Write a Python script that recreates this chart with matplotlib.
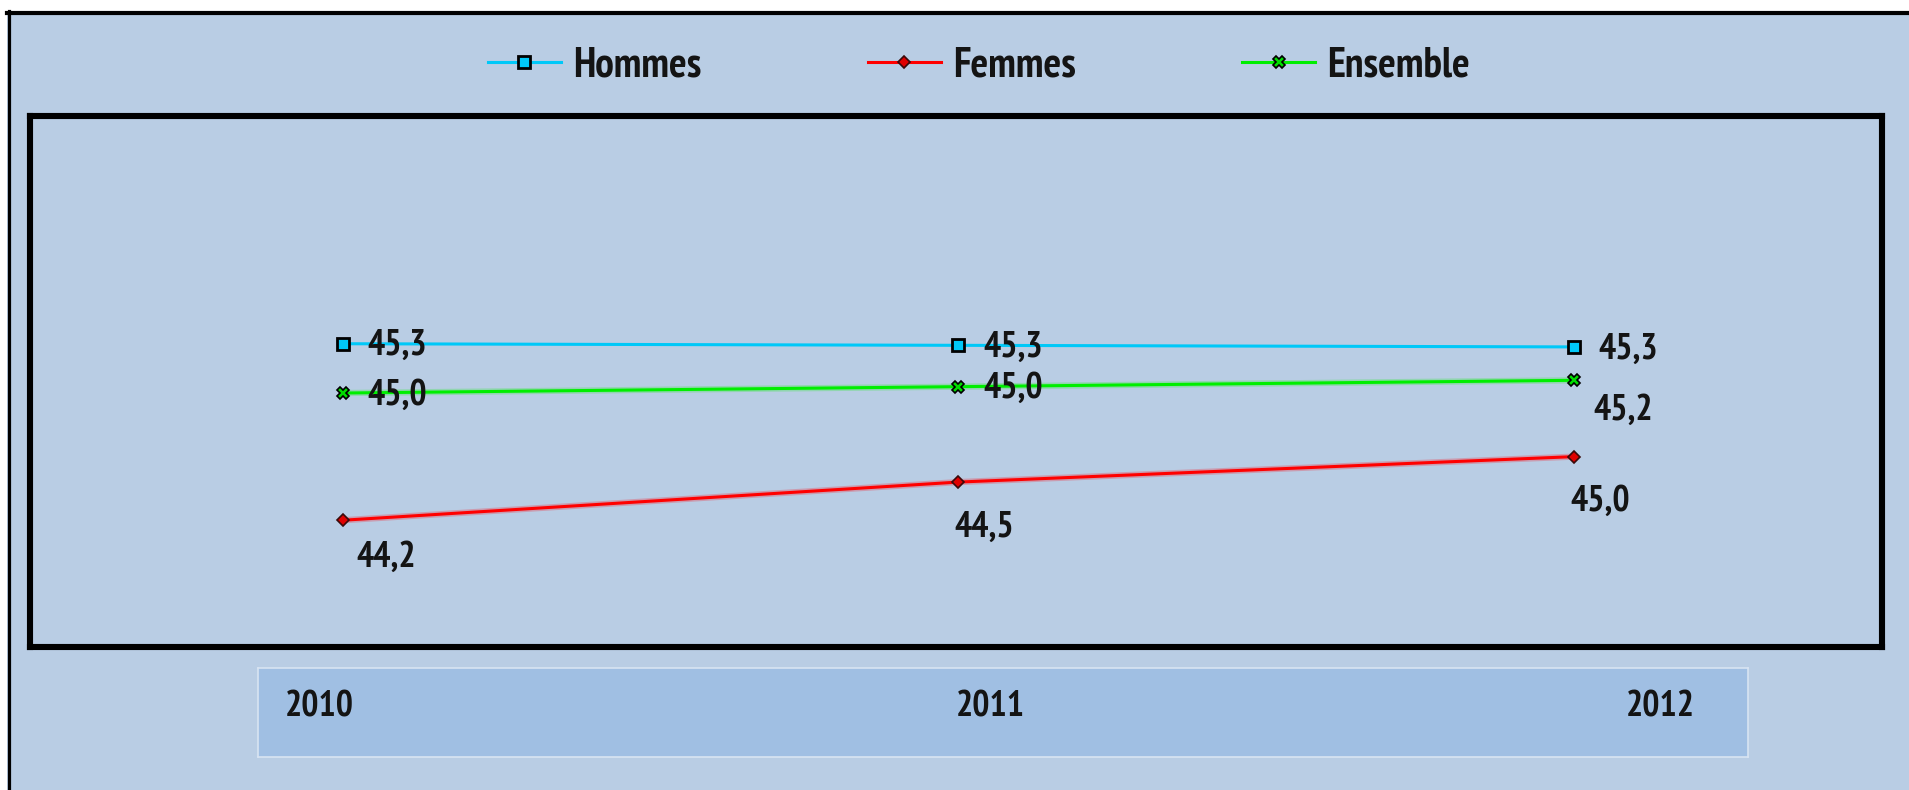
import matplotlib
matplotlib.use('Agg')
import matplotlib.pyplot as plt
from matplotlib import font_manager
from matplotlib.font_manager import FontProperties
from matplotlib.patches import Rectangle
from matplotlib.lines import Line2D

# ─── Data ─────────────────────────────────────────────────────────────────────
years = ['2010', '2011', '2012']
# heights as drawn in the picture
hommes = [45.31, 45.30, 45.29]
femmes = [44.20, 44.44, 44.60]
ensemble = [45.00, 45.04, 45.08]
# values as printed on the picture
hommes_lbl = ['45,3', '45,3', '45,3']
femmes_lbl = ['44,2', '44,5', '45,0']
ensemble_lbl = ['45,0', '45,0', '45,2']

# ─── Style ────────────────────────────────────────────────────────────────────
W, H = 1909, 790
BG = '#B9CDE4'
BAND = '#A0BFE3'
TXT = '#141414'

# look for a narrow bold face, otherwise plain Liberation Sans bold a bit smaller
narrow = None
for f in font_manager.fontManager.ttflist:
    condensed = ('Narrow' in f.name or 'Condensed' in f.name
                 or str(f.stretch) in ('condensed', 'semi-condensed', 'extra-condensed'))
    bold = f.weight in ('bold', 700, 'semibold', 600)
    if condensed and bold:
        narrow = f.fname
        if 'Liberation' in f.name or 'Narrow' in f.name:
            break

if narrow:
    def fp(size):
        return FontProperties(fname=narrow, size=size)
    SZ, LEG_SZ = 26, 30
else:
    def fp(size):
        return FontProperties(family='Liberation Sans', weight='bold', size=size)
    SZ, LEG_SZ = 23, 26

fig = plt.figure(figsize=(W / 100, H / 100), dpi=100, facecolor='white')

def fx(px):
    return px / W

def fy(py):
    return 1 - py / H

# outer panel with black top/left border
fig.patches.append(Rectangle((fx(7), 0), 1, fy(13), transform=fig.transFigure,
                             facecolor=BG, edgecolor='none', zorder=-5))
fig.lines.append(Line2D([fx(7), 1], [fy(13), fy(13)], transform=fig.transFigure,
                        color='black', lw=3.0, zorder=-4))
fig.lines.append(Line2D([fx(8.5), fx(8.5)], [0, fy(11)], transform=fig.transFigure,
                        color='black', lw=2.3, zorder=-4))

# main plot box
L, R, T, B = 30, 1882, 116, 647
ax = fig.add_axes([fx(L), fy(B), fx(R) - fx(L), fy(T) - fy(B)])
ax.set_facecolor(BG)
for s in ax.spines.values():
    s.set_linewidth(4.4)
    s.set_color('black')
ax.set_xlim(-0.508, 2.501)
ax.set_ylim(43.403, 46.742)
ax.set_xticks([])
ax.set_yticks([])

x = list(range(len(years)))

# faint smeared underlay seen on the red / green lines
ax.plot(x, femmes, color='#E06070', lw=4.5, alpha=0.45, zorder=2)
ax.plot(x, ensemble, color='#60E070', lw=4.5, alpha=0.45, zorder=2)

l_h, = ax.plot(x, hommes, color='#00C8F8', lw=2.2, marker='s', ms=8,
               mfc='#00C8F8', mec='black', mew=2.0, label='Hommes', zorder=4)
l_f, = ax.plot(x, femmes, color='#FF0000', lw=2.2, marker='D', ms=6.5,
               mfc='#E00000', mec='#3A0A0A', mew=1.2, label='Femmes', zorder=4)
l_e, = ax.plot(x, ensemble, color='#00EE00', lw=2.2, marker='X', ms=9,
               mfc='#00DD00', mec='black', mew=1.2, label='Ensemble', zorder=4)

lbl_kw = dict(textcoords='offset pixels', fontproperties=fp(SZ),
              color=TXT, zorder=5)
for i in x:
    ax.annotate(hommes_lbl[i], (i, hommes[i]), xytext=(25, -2),
                ha='left', va='center', **lbl_kw)
# Ensemble: right for first two, below for the last one
for i in x:
    if i < 2:
        ax.annotate(ensemble_lbl[i], (i, ensemble[i]), xytext=(25, -2),
                    ha='left', va='center', **lbl_kw)
    else:
        ax.annotate(ensemble_lbl[i], (i, ensemble[i]), xytext=(20, -30),
                    ha='left', va='center', **lbl_kw)
fem_off = [(14, -37), (-4, -45), (-3, -45)]
for i in x:
    ax.annotate(femmes_lbl[i], (i, femmes[i]), xytext=fem_off[i],
                ha='left', va='center', **lbl_kw)

# category band below the plot
bx = fig.add_axes([fx(258), fy(757), fx(1748) - fx(258), fy(668) - fy(757)])
bx.set_facecolor(BAND)
for s in bx.spines.values():
    s.set_color('#D8E4F2')
    s.set_linewidth(1.2)
bx.set_xlim(-0.091, 2.130)
bx.set_ylim(0, 1)
bx.set_xticks([])
bx.set_yticks([])
for i, yr in enumerate(years):
    bx.text(i, 0.56, yr, ha='center', va='center', fontproperties=fp(SZ),
            color=TXT)

# legend
fig.legend(handles=[l_h, l_f, l_e], loc='center', bbox_to_anchor=(fx(979), fy(66)),
           ncol=3, frameon=False, prop=fp(LEG_SZ),
           handlelength=1.75, handletextpad=0.29, columnspacing=4.0,
           labelcolor=TXT)

fig.savefig('out.png', dpi=100, facecolor='white')
